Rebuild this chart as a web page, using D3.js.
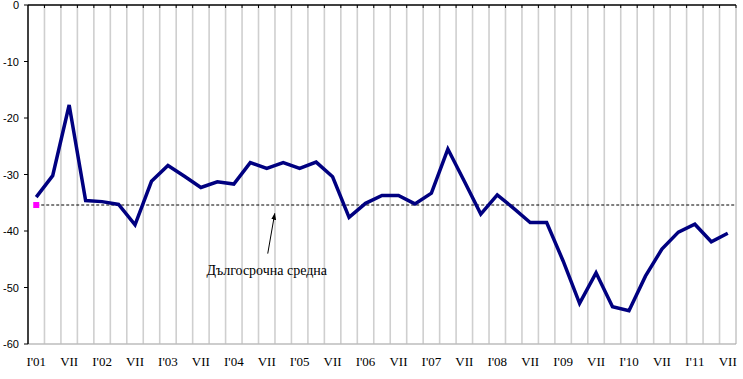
<!DOCTYPE html>
<html><head><meta charset="utf-8">
<script src="https://cdn.jsdelivr.net/npm/d3@7"></script>
<style>body{margin:0;background:#fff}svg{display:block}</style>
</head><body>
<svg id="c" width="743" height="379"></svg>
<script>
const categories = ["I'01","IV'01","VII'01","X'01","I'02","IV'02","VII'02","X'02","I'03","IV'03","VII'03","X'03",
 "I'04","IV'04","VII'04","X'04","I'05","IV'05","VII'05","X'05","I'06","IV'06","VII'06","X'06",
 "I'07","IV'07","VII'07","X'07","I'08","IV'08","VII'08","X'08","I'09","IV'09","VII'09","X'09",
 "I'10","IV'10","VII'10","X'10","I'11","IV'11","VII'11"];
const values = [-34.0,-30.2,-17.7,-34.6,-34.8,-35.3,-38.9,-31.2,-28.4,-30.3,-32.3,-31.3,
 -31.7,-27.9,-28.9,-27.9,-28.9,-27.8,-30.4,-37.6,-35.1,-33.7,-33.7,-35.2,
 -33.3,-25.5,-31.2,-37.0,-33.6,-36.0,-38.5,-38.5,-45.3,-52.8,-47.4,-53.4,
 -54.1,-48.0,-43.2,-40.2,-38.8,-41.9,-40.4];
const tickLabels = ["I'01","VII","I'02","VII","I'03","VII","I'04","VII","I'05","VII","I'06","VII",
 "I'07","VII","I'08","VII","I'09","VII","I'10","VII","I'11","VII"];
const yTicks = [0,-10,-20,-30,-40,-50,-60];
const longTermAvg = -35.4;
const annotation = "Дългосрочна средна";

const svg = d3.select("#c");
const L = 28, R = 736, T = 5, B = 344;
const x = d3.scaleBand().domain(categories).range([L, R]).padding(0);
const y = d3.scaleLinear().domain([-60, 0]).range([B, T]);
const cx = d => x(d) + x.bandwidth() / 2;

// vertical gridlines at category boundaries
const bounds = categories.slice(1).map(c => x(c));
svg.append("g").selectAll("line").data(bounds).join("line")
  .attr("x1", d => d).attr("x2", d => d).attr("y1", T).attr("y2", B)
  .attr("stroke", "#cfcfcf").attr("stroke-width", 1.6);

// bottom and right border
svg.append("line").attr("x1", L).attr("x2", R).attr("y1", B).attr("y2", B)
  .attr("stroke", "#bdbdbd").attr("stroke-width", 1.5);
svg.append("line").attr("x1", R).attr("x2", R).attr("y1", T).attr("y2", B)
  .attr("stroke", "#a8a8a8").attr("stroke-width", 1);

// top axis (x axis crossing at 0)
svg.append("line").attr("x1", L).attr("x2", R).attr("y1", y(0)).attr("y2", y(0))
  .attr("stroke", "#000").attr("stroke-width", 1.3);
svg.append("g").selectAll("line").data(bounds.concat([R])).join("line")
  .attr("x1", d => d).attr("x2", d => d).attr("y1", y(0)).attr("y2", y(0) + 3)
  .attr("stroke", "#000").attr("stroke-width", 1);

// left axis
svg.append("line").attr("x1", L).attr("x2", L).attr("y1", T).attr("y2", B)
  .attr("stroke", "#000").attr("stroke-width", 1.5);
svg.append("g").selectAll("line").data(yTicks).join("line")
  .attr("x1", L - 4).attr("x2", L).attr("y1", d => y(d)).attr("y2", d => y(d))
  .attr("stroke", "#000").attr("stroke-width", 1);
svg.append("g").selectAll("text").data(yTicks).join("text")
  .attr("x", 19).attr("y", d => y(d) + 4).attr("text-anchor", "end")
  .attr("font-family", "Liberation Sans, Arial, sans-serif").attr("font-size", 11)
  .attr("fill", "#000").text(d => d);

// x labels
const labeled = categories.filter((c, i) => i % 2 === 0);
svg.append("g").selectAll("text").data(labeled).join("text")
  .attr("x", d => cx(d)).attr("y", 366).attr("text-anchor", "middle")
  .attr("font-family", "Liberation Serif, Times New Roman, serif").attr("font-size", 13)
  .attr("fill", "#000").text((d, i) => tickLabels[i]);

// long-term average dashed line
svg.append("line").attr("x1", cx(categories[0])).attr("x2", R)
  .attr("y1", y(longTermAvg)).attr("y2", y(longTermAvg))
  .attr("stroke", "#000").attr("stroke-width", 1).attr("stroke-dasharray", "3,2");
svg.append("rect").attr("x", cx(categories[0]) - 3).attr("y", y(longTermAvg) - 3)
  .attr("width", 6).attr("height", 6).attr("fill", "#ff00ff");

// main line
const line = d3.line().x((d, i) => cx(categories[i])).y(d => y(d));
svg.append("path").datum(values).attr("d", line).attr("fill", "none")
  .attr("stroke", "#000080").attr("stroke-width", 3.5).attr("stroke-linejoin", "miter");

// annotation
svg.append("defs").append("marker").attr("id", "ah").attr("viewBox", "0 0 10 10")
  .attr("refX", 9).attr("refY", 5).attr("markerWidth", 7).attr("markerHeight", 7)
  .attr("orient", "auto").append("path").attr("d", "M0,1.5L10,5L0,8.5Z").attr("fill", "#000");
const tipX = cx(categories[14]) + 8;
svg.append("line").attr("x1", tipX - 7).attr("y1", y(-44)).attr("x2", tipX).attr("y2", y(-36.9))
  .attr("stroke", "#000").attr("stroke-width", 1).attr("marker-end", "url(#ah)");
svg.append("text").attr("x", tipX - 8).attr("y", 275).attr("text-anchor", "middle")
  .attr("font-family", "Liberation Serif, Times New Roman, serif").attr("font-size", 14)
  .attr("fill", "#000").text(annotation);
</script>
</body></html>
